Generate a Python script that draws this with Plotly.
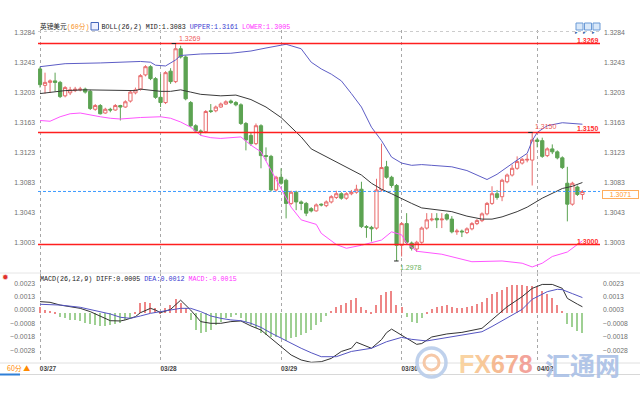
import plotly.graph_objects as go

# ---------------- data ----------------
dates = ["03/27", "03/28", "03/29", "03/30", "04/02"]
date_idx = [0, 24, 48, 72, 99]

opens = [1.3235, 1.3213, 1.3217, 1.3219, 1.3217, 1.3199, 1.3203, 1.3206, 1.3207, 1.3208,
         1.3205, 1.3181, 1.3186, 1.3176, 1.3181, 1.3180, 1.3186, 1.3184, 1.3192, 1.3203,
         1.3208, 1.3227, 1.3238, 1.3222, 1.3197, 1.3190, 1.3232, 1.3218, 1.3262, 1.3251,
         1.3190, 1.3159, 1.3152, 1.3151, 1.3179, 1.3179, 1.3184, 1.3188, 1.3192, 1.3190,
         1.3187, 1.3162, 1.3146, 1.3135, 1.3159, 1.3119, 1.3118, 1.3073, 1.3090, 1.3086,
         1.3055, 1.3070, 1.3057, 1.3055, 1.3048, 1.3045, 1.3054, 1.3052, 1.3057, 1.3063,
         1.3068, 1.3062, 1.3068, 1.3070, 1.3074, 1.3024, 1.3023, 1.3022, 1.3073, 1.3104,
         1.3090, 1.3079, 1.2999, 1.3028, 1.3002, 1.2994, 1.3003, 1.3022, 1.3033, 1.3035,
         1.3033, 1.3040, 1.3034, 1.3017, 1.3018, 1.3016, 1.3021, 1.3028, 1.3032, 1.3041,
         1.3055, 1.3068, 1.3064, 1.3084, 1.3093, 1.3102, 1.3109, 1.3113, 1.3113, 1.3140,
         1.3139, 1.3119, 1.3128, 1.3124, 1.3116, 1.3082, 1.3054, 1.3077, 1.3067]
highs = [1.3238, 1.3230, 1.3221, 1.3230, 1.3219, 1.3212, 1.3211, 1.3211, 1.3211, 1.3210,
         1.3207, 1.3188, 1.3188, 1.3183, 1.3183, 1.3188, 1.3187, 1.3193, 1.3206, 1.3210,
         1.3228, 1.3240, 1.3240, 1.3224, 1.3228, 1.3232, 1.3236, 1.3269, 1.3266, 1.3253,
         1.3192, 1.3161, 1.3154, 1.3180, 1.3188, 1.3186, 1.3190, 1.3193, 1.3194, 1.3192,
         1.3189, 1.3164, 1.3150, 1.3162, 1.3161, 1.3130, 1.3120, 1.3092, 1.3102, 1.3088,
         1.3072, 1.3072, 1.3059, 1.3057, 1.3050, 1.3055, 1.3055, 1.3059, 1.3066, 1.3072,
         1.3070, 1.3070, 1.3073, 1.3080, 1.3084, 1.3026, 1.3025, 1.3088, 1.3135, 1.3112,
         1.3092, 1.3081, 1.3030, 1.3042, 1.3004, 1.3005, 1.3024, 1.3042, 1.3042, 1.3042,
         1.3042, 1.3042, 1.3038, 1.3021, 1.3020, 1.3023, 1.3030, 1.3034, 1.3043, 1.3057,
         1.3078, 1.3073, 1.3088, 1.3095, 1.3107, 1.3118, 1.3116, 1.3121, 1.3150, 1.3143,
         1.3143, 1.3130, 1.3134, 1.3126, 1.3118, 1.3104, 1.3084, 1.3079, 1.3073]
lows = [1.3210, 1.3202, 1.3203, 1.3205, 1.3196, 1.3197, 1.3200, 1.3204, 1.3205, 1.3202,
        1.3180, 1.3179, 1.3174, 1.3175, 1.3177, 1.3179, 1.3166, 1.3183, 1.3190, 1.3201,
        1.3206, 1.3225, 1.3220, 1.3195, 1.3184, 1.3188, 1.3215, 1.3216, 1.3249, 1.3193,
        1.3157, 1.3150, 1.3146, 1.3149, 1.3176, 1.3177, 1.3183, 1.3187, 1.3188, 1.3185,
        1.3160, 1.3126, 1.3132, 1.3133, 1.3102, 1.3112, 1.3071, 1.3071, 1.3080, 1.3035,
        1.3053, 1.3046, 1.3046, 1.3038, 1.3043, 1.3044, 1.3051, 1.3050, 1.3055, 1.3061,
        1.3060, 1.3060, 1.3066, 1.3068, 1.3022, 1.3009, 1.3004, 1.3020, 1.3071, 1.3088,
        1.3076, 1.2978, 1.2984, 1.3001, 1.2992, 1.2990, 1.3001, 1.3020, 1.3031, 1.3022,
        1.3022, 1.3032, 1.3015, 1.3013, 1.3010, 1.3014, 1.3019, 1.3026, 1.3030, 1.3039,
        1.3053, 1.3060, 1.3058, 1.3082, 1.3091, 1.3100, 1.3107, 1.3110, 1.3079, 1.3130,
        1.3116, 1.3117, 1.3121, 1.3114, 1.3101, 1.3031, 1.3052, 1.3065, 1.3060]
closes = [1.3214, 1.3217, 1.3219, 1.3217, 1.3198, 1.3210, 1.3207, 1.3208, 1.3208, 1.3204,
          1.3182, 1.3186, 1.3175, 1.3181, 1.3180, 1.3186, 1.3184, 1.3191, 1.3204, 1.3207,
          1.3226, 1.3238, 1.3222, 1.3197, 1.3190, 1.3230, 1.3218, 1.3262, 1.3251, 1.3195,
          1.3159, 1.3152, 1.3151, 1.3178, 1.3178, 1.3184, 1.3188, 1.3191, 1.3190, 1.3187,
          1.3162, 1.3140, 1.3135, 1.3159, 1.3119, 1.3118, 1.3073, 1.3090, 1.3082, 1.3055,
          1.3070, 1.3057, 1.3055, 1.3042, 1.3045, 1.3053, 1.3053, 1.3057, 1.3064, 1.3068,
          1.3062, 1.3068, 1.3070, 1.3074, 1.3024, 1.3023, 1.3021, 1.3073, 1.3103, 1.3090,
          1.3079, 1.2999, 1.3028, 1.3003, 1.2995, 1.3003, 1.3022, 1.3033, 1.3034, 1.3033,
          1.3034, 1.3034, 1.3017, 1.3018, 1.3017, 1.3021, 1.3028, 1.3032, 1.3041, 1.3055,
          1.3068, 1.3063, 1.3086, 1.3093, 1.3102, 1.3111, 1.3114, 1.3114, 1.3140, 1.3138,
          1.3118, 1.3128, 1.3124, 1.3116, 1.3103, 1.3054, 1.3082, 1.3067, 1.3071]

upper_idx = [0, 5, 12, 20, 22, 23, 25, 27, 28, 32, 38, 42, 45, 48, 49, 50, 52, 54, 56, 58,
             60, 62, 64, 66, 68, 70, 72, 74, 76, 78, 82, 85, 87, 89, 91, 93, 95, 97, 98, 99,
             101, 104, 106, 108]
upper_val = [1.3238, 1.3242, 1.3243, 1.3245, 1.3244, 1.3240, 1.3239, 1.3247, 1.3253, 1.3255,
             1.3256, 1.3259, 1.3263, 1.3266, 1.3268, 1.3266, 1.3262, 1.3244, 1.3235, 1.3228,
             1.3219, 1.3202, 1.3184, 1.3157, 1.3139, 1.3117, 1.3109, 1.3106, 1.3107, 1.3106,
             1.3104, 1.3099, 1.3093, 1.3087, 1.3094, 1.3104, 1.3113, 1.3122, 1.3139, 1.3150,
             1.3159, 1.3163, 1.3162, 1.3161]

mid_idx = [0, 2, 5, 9, 12, 15, 19, 20, 22, 24, 26, 28, 30, 32, 36, 39, 42, 45, 48, 50,
           52, 54, 56, 58, 61, 64, 66, 68, 70, 72, 74, 76, 78, 82, 85, 88, 90, 92, 95, 97,
           100, 102, 104, 106, 108]
mid_val = [1.3202, 1.3204, 1.3206, 1.3207, 1.3207, 1.3206, 1.3206, 1.3208, 1.3206, 1.3205,
           1.3205, 1.3207, 1.3204, 1.3201, 1.3199, 1.3200, 1.3194, 1.3184, 1.3170, 1.3157,
           1.3144, 1.3128, 1.3121, 1.3114, 1.3103, 1.3093, 1.3082, 1.3074, 1.3068, 1.3061,
           1.3055, 1.3049, 1.3047, 1.3044, 1.3038, 1.3034, 1.3034, 1.3037, 1.3044, 1.3050,
           1.3062, 1.3068, 1.3075, 1.3078, 1.3083]

lower_idx = [0, 2, 4, 6, 8, 10, 12, 14, 16, 20, 24, 26, 28, 30, 32, 34, 36, 40, 42, 44,
             46, 48, 50, 52, 55, 56, 59, 61, 64, 68, 70, 72, 73, 75, 80, 86, 92, 96, 98, 100,
             102, 105, 106, 108]
lower_val = [1.3166, 1.3165, 1.3171, 1.3175, 1.3176, 1.3174, 1.3171, 1.3169, 1.3168, 1.3170,
             1.3171, 1.3169, 1.3164, 1.3157, 1.3146, 1.3143, 1.3142, 1.3144, 1.3133, 1.3124,
             1.3099, 1.3073, 1.3050, 1.3033, 1.3027, 1.3015, 1.3000, 1.2995, 1.2999, 1.3006,
             1.3017, 1.3013, 1.3002, 1.2991, 1.2987, 1.2977, 1.2978, 1.2975, 1.2970, 1.2975,
             1.2984, 1.2990, 1.2995, 1.3005]

diff_idx = [0, 2, 4, 6, 8, 10, 12, 14, 16, 17, 19, 20, 22, 23, 24, 26, 28, 29, 30, 32,
            34, 36, 38, 40, 42, 44, 46, 48, 50, 52, 54, 56, 58, 60, 62, 63, 65, 66, 68, 69,
            70, 72, 73, 75, 76, 78, 81, 84, 88, 90, 93, 96, 98, 100, 102, 104, 105, 107, 108]
diff_val = [0.00089, 0.00084, 0.00063, 0.00051, 0.00038, 0.00013, -0.00020, -0.00056, -0.00058, -0.00050,
            -0.00025, 0.00005, 0.00038, 0.00025, 0.00005, 0.00030, 0.00100, 0.00064, 0.00025, -0.00063,
            -0.00076, -0.00076, -0.00063, -0.00058, -0.00096, -0.00127, -0.00190, -0.00254, -0.00317, -0.00355,
            -0.00373, -0.00368, -0.00343, -0.00290, -0.00266, -0.00220, -0.00250, -0.00266, -0.00200, -0.00147,
            -0.00120, -0.00165, -0.00190, -0.00236, -0.00230, -0.00180, -0.00157, -0.00145, -0.00114, -0.00050,
            0.00050, 0.00127, 0.00190, 0.00220, 0.00220, 0.00190, 0.00114, 0.00070, 0.00050]

dea_idx = [0, 4, 8, 12, 14, 16, 18, 20, 22, 24, 26, 28, 30, 32, 34, 36, 38, 40, 42, 44,
           46, 48, 50, 52, 54, 56, 59, 62, 66, 69, 72, 74, 77, 80, 84, 88, 90, 93, 96, 98,
           101, 103, 104, 106, 108]
dea_val = [0.00069, 0.00063, 0.00046, 0.00013, -0.00005, -0.00030, -0.00038, -0.00020, 0.00000, 0.00013,
           0.00025, 0.00038, 0.00038, 0.00013, -0.00020, -0.00038, -0.00050, -0.00056, -0.00076, -0.00107,
           -0.00150, -0.00190, -0.00230, -0.00266, -0.00300, -0.00330, -0.00330, -0.00290, -0.00266, -0.00216,
           -0.00183, -0.00198, -0.00210, -0.00190, -0.00165, -0.00140, -0.00100, -0.00038, 0.00030, 0.00107,
           0.00165, 0.00183, 0.00180, 0.00150, 0.00120]

macd_hist = [0.00046, 0.00025, 0.00018, 0.00008, -0.00025, -0.00038, -0.00051, -0.00051, -0.00056, -0.00071,
             -0.00081, -0.00089, -0.00097, -0.00097, -0.00089, -0.00081, -0.00071, -0.00051, -0.00038, 0.00013,
             0.00076, 0.00089, 0.00076, 0.00038, 0.00013, 0.00038, 0.00064, 0.00107, 0.00076, 0.00038,
             -0.00051, -0.00127, -0.00152, -0.00140, -0.00127, -0.00089, -0.00064, -0.00038, -0.00025, -0.00013,
             -0.00038, -0.00064, -0.00089, -0.00114, -0.00147, -0.00165, -0.00183, -0.00183, -0.00190, -0.00208,
             -0.00190, -0.00178, -0.00165, -0.00152, -0.00127, -0.00089, -0.00064, -0.00020, 0.00018, 0.00051,
             0.00064, 0.00081, 0.00102, 0.00114, 0.00051, 0.00025, 0.00008, 0.00064, 0.00140, 0.00165,
             0.00170, 0.00064, 0.00051, -0.00025, -0.00064, -0.00071, -0.00038, 0.00013, 0.00030, 0.00046,
             0.00058, 0.00064, 0.00051, 0.00038, 0.00038, 0.00046, 0.00056, 0.00071, 0.00089, 0.00114,
             0.00147, 0.00165, 0.00178, 0.00198, 0.00216, 0.00216, 0.00216, 0.00208, 0.00208, 0.00198,
             0.00173, 0.00147, 0.00114, 0.00064, 0.00020, -0.00081, -0.00107, -0.00132, -0.00152]

levels = [1.3269, 1.3150, 1.3000]
price_ticks = [1.3284, 1.3243, 1.3203, 1.3163, 1.3123, 1.3083, 1.3043, 1.3003]
macd_ticks = [0.0023, 0.0013, 0.0003, -0.0008, -0.0018, -0.0028]

# ---------------- styling ----------------
W, H = 640, 400
ML, MR = 38, 40
PW = W - ML - MR


def px_x(px):
    return (px - ML) / PW


def px_y(py):
    return (H - py) / H


INC = "#e8696a"
DEC = "#5ca352"
GRAY = "#707070"
TICKFONT = dict(family="Liberation Sans, Arial, sans-serif", size=6.8, color=GRAY)
MONO = "Liberation Mono, Noto Sans CJK SC, monospace"

n = len(closes)
idx = list(range(n))

fig = go.Figure()

fig.add_trace(go.Candlestick(
    x=idx, open=opens, high=highs, low=lows, close=closes,
    increasing=dict(line=dict(color=INC, width=1), fillcolor="white"),
    decreasing=dict(line=dict(color=DEC, width=1), fillcolor=DEC),
    xaxis="x", yaxis="y", showlegend=False, hoverinfo="skip"))

for xs, ys, col in [(upper_idx, upper_val, "#5d5dc6"),
                    (mid_idx, mid_val, "#3a3a3a"),
                    (lower_idx, lower_val, "#ff55ff")]:
    fig.add_trace(go.Scatter(x=xs, y=ys, mode="lines", line=dict(color=col, width=1),
                             xaxis="x", yaxis="y", showlegend=False, hoverinfo="skip"))

# right-side price axis helper
fig.add_trace(go.Scatter(x=[0], y=[closes[0]], mode="markers", marker=dict(opacity=0),
                         xaxis="x", yaxis="y3", showlegend=False, hoverinfo="skip"))

# MACD panel
fig.add_trace(go.Bar(x=idx, y=macd_hist, width=0.24,
                     marker=dict(color=["#ee8686" if v >= 0 else "#9fd093" for v in macd_hist],
                                 line=dict(width=0)),
                     xaxis="x2", yaxis="y2", showlegend=False, hoverinfo="skip"))
fig.add_trace(go.Scatter(x=diff_idx, y=diff_val, mode="lines", line=dict(color="#333333", width=1),
                         xaxis="x2", yaxis="y2", showlegend=False, hoverinfo="skip"))
fig.add_trace(go.Scatter(x=dea_idx, y=dea_val, mode="lines", line=dict(color="#5555c2", width=1),
                         xaxis="x2", yaxis="y2", showlegend=False, hoverinfo="skip"))
fig.add_trace(go.Scatter(x=[0], y=[0], mode="markers", marker=dict(opacity=0),
                         xaxis="x2", yaxis="y4", showlegend=False, hoverinfo="skip"))

PRICE_RANGE = [1.29619, 1.32871]
MACD_RANGE = [-0.00378, 0.00307]
XR = [-0.4, 111.5]
main_dom = [px_y(273), px_y(30)]
macd_dom = [px_y(363), px_y(273)]

shapes = []
annotations = []

# level lines + right labels
for v in levels:
    shapes.append(dict(type="line", xref="x domain", x0=0, x1=1, yref="y", y0=v, y1=v,
                       line=dict(color="#ff1f1f", width=1.5), layer="above"))
    annotations.append(dict(xref="paper", x=1, xanchor="right", yref="y", y=v, yanchor="bottom",
                            text=f"<b>{v:.4f}</b>", showarrow=False,
                            font=dict(family="Liberation Sans, Arial", size=7, color="#ff3030"),
                            borderpad=0, yshift=-1))

# current price line and box
last = closes[-1]
shapes.append(dict(type="line", xref="x domain", x0=0, x1=1, yref="y", y0=last, y1=last,
                   line=dict(color="#3d9bff", width=1, dash="3px,2px")))
annotations.append(dict(xref="paper", x=px_x(620.5), xanchor="center", yref="y", y=last,
                        yanchor="top", text=f"{last:.4f}", showarrow=False,
                        font=dict(family="Liberation Sans, Arial", size=7, color="#ff9a2e"),
                        bordercolor="#ffad5c", borderwidth=1, borderpad=0, bgcolor="white",
                        width=35, height=7, yshift=1))

# high / low markers
hi_marks = [27, 98]
lo_marks = [71]
for i in hi_marks:
    shapes.append(dict(type="line", xref="x", x0=i - 0.8, x1=i + 0.1, yref="y",
                       y0=highs[i], y1=highs[i], line=dict(color="#222", width=1)))
    annotations.append(dict(xref="x", x=i, xanchor="left", yref="y", y=highs[i], yanchor="bottom",
                            text=f"{highs[i]:.4f}", showarrow=False, xshift=1, yshift=0,
                            font=dict(family="Liberation Sans, Arial", size=7, color="#ee5a5a")))
for i in lo_marks:
    shapes.append(dict(type="line", xref="x", x0=i - 0.5, x1=i + 0.4, yref="y",
                       y0=lows[i], y1=lows[i], line=dict(color="#222", width=1)))
    annotations.append(dict(xref="x", x=i, xanchor="left", yref="y", y=lows[i], yanchor="top",
                            text=f"{lows[i]:.4f}", showarrow=False, xshift=1, yshift=-1,
                            font=dict(family="Liberation Sans, Arial", size=7, color="#6ab25a")))

# separators
for py, col in [(273, "#e6e6e6"), (363, "#e0e0e0"), (374.5, "#d8d8d8")]:
    shapes.append(dict(type="line", xref="paper", x0=px_x(0), x1=px_x(640), yref="paper",
                       y0=px_y(py), y1=px_y(py), line=dict(color=col, width=1)))
shapes.append(dict(type="line", xref="paper", x0=px_x(0), x1=px_x(20), yref="paper",
                   y0=px_y(374.5), y1=px_y(374.5), line=dict(color="#2f7fd6", width=2)))
shapes.append(dict(type="line", xref="paper", x0=0, x1=1, yref="paper",
                   y0=px_y(31.5), y1=px_y(31.5), line=dict(color="#cccccc", width=1, dash="dot")))

# title icon and top-right buttons
shapes.append(dict(type="rect", xref="paper", x0=px_x(91), x1=px_x(98.5), yref="paper",
                   y0=px_y(30), y1=px_y(22.5), line=dict(color="#4466bb", width=1), fillcolor="#eef1ff"))
for x0 in [576, 584.5, 593]:
    shapes.append(dict(type="rect", xref="paper", x0=px_x(x0), x1=px_x(x0 + 7), yref="paper",
                       y0=px_y(30), y1=px_y(23), line=dict(color="#6b9ad6", width=1), fillcolor="#d9e8f9"))
    annotations.append(dict(xref="paper", x=px_x(x0 + 3.5), yref="paper", y=px_y(26.5),
                            text="▸", showarrow=False, font=dict(size=5, color="#2d5fa8")))

# titles
upper_last, mid_last, lower_last = upper_val[-1], mid_val[-1], lower_val[-1]
title = (f'英镑美元<span style="color:#f7931e">(60分)</span>   '
         f'BOLL(26,2) MID:{mid_last:.4f} '
         f'<span style="color:#3a3ad0">UPPER:{upper_last:.4f}</span> '
         f'<span style="color:#ff33ff">LOWER:{lower_last:.4f}</span>')
annotations.append(dict(xref="paper", x=0, xanchor="left", yref="paper", y=px_y(26.5),
                        yanchor="middle", text=title, showarrow=False,
                        font=dict(family=MONO, size=6.7, color="#222")))
macd_title = (f'MACD(26,12,9) DIFF:{diff_val[-1]:.4f} '
              f'<span style="color:#3a3ad0">DEA:{dea_val[-1]:.4f}</span> '
              f'<span style="color:#ff33ff">MACD:{macd_hist[-1]:.4f}</span>')
annotations.append(dict(xref="paper", x=0, xanchor="left", yref="paper", y=px_y(278.5),
                        yanchor="middle", text=macd_title, showarrow=False,
                        font=dict(family=MONO, size=6.7, color="#222")))
annotations.append(dict(xref="paper", x=px_x(0), xanchor="left", yref="paper", y=px_y(277),
                        yanchor="middle", text="✹", showarrow=False,
                        font=dict(family="DejaVu Sans", size=8, color="#e0302a")))
annotations.append(dict(xref="paper", x=px_x(5), xanchor="left", yref="paper", y=px_y(367.5),
                        yanchor="middle", text="60分 ▲", showarrow=False,
                        font=dict(family="Noto Sans CJK SC, Liberation Sans", size=7, color="#ff8a00")))

# watermark
shapes.append(dict(type="circle", xref="paper", x0=px_x(417), x1=px_x(446), yref="paper",
                   y0=px_y(377), y1=px_y(348), line=dict(color="#b9cdea", width=3.5), opacity=0.9))
shapes.append(dict(type="circle", xref="paper", x0=px_x(424), x1=px_x(439), yref="paper",
                   y0=px_y(370), y1=px_y(355), line=dict(color="#f6c39e", width=3), opacity=0.9))
wm = ('<span style="color:#f9cf98">F</span><span style="color:#f8c38f">X</span>'
      '<span style="color:#f6b488">6</span><span style="color:#f4a688">7</span>'
      '<span style="color:#f29a90">8</span>')
annotations.append(dict(xref="paper", x=px_x(496), xanchor="center", yref="paper", y=px_y(364),
                        yanchor="middle", text=f"<b>{wm}</b>", showarrow=False, opacity=0.9,
                        font=dict(family="Liberation Sans, Arial, sans-serif", size=25)))
annotations.append(dict(xref="paper", x=px_x(582), xanchor="center", yref="paper", y=px_y(364),
                        yanchor="middle", text="<b>汇通网</b>", showarrow=False, opacity=0.9,
                        font=dict(family="Noto Sans CJK SC", size=25, color="#aac0e6")))

fig.update_layout(
    width=W, height=H,
    margin=dict(l=ML, r=MR, t=0, b=0, autoexpand=False),
    paper_bgcolor="white", plot_bgcolor="white",
    showlegend=False, boxgap=0.35, boxgroupgap=0, bargap=0,
    xaxis=dict(domain=[0, 1], anchor="y", range=XR, tickvals=date_idx, showticklabels=False,
               showgrid=True, gridcolor="#a8a8a8", griddash="dot", gridwidth=1,
               zeroline=False, showline=False, ticks="", rangeslider=dict(visible=False)),
    xaxis2=dict(domain=[0, 1], anchor="y2", matches="x", range=XR, tickvals=date_idx,
                ticktext=[f"<b>{d}</b>" for d in dates], showticklabels=True,
                tickfont=dict(family="Liberation Sans, Arial", size=6.5, color="#444"),
                ticklabelshift=8, ticklabelstandoff=0,
                showgrid=True, gridcolor="#a8a8a8", griddash="dot", gridwidth=1,
                zeroline=False, showline=False, ticks=""),
    yaxis=dict(domain=main_dom, anchor="x", range=PRICE_RANGE, tickvals=price_ticks,
               tickformat=".4f", tickfont=TICKFONT, showgrid=False, zeroline=False, ticks="",
               ticklabelstandoff=2),
    yaxis3=dict(overlaying="y", side="right", anchor="x", range=PRICE_RANGE, tickvals=price_ticks,
                tickformat=".4f", tickfont=TICKFONT, showgrid=False, zeroline=False, ticks="",
                ticklabelstandoff=3),
    yaxis2=dict(domain=macd_dom, anchor="x2", range=MACD_RANGE, tickvals=macd_ticks,
                tickformat=".4f", tickfont=TICKFONT, showgrid=False, zeroline=False, ticks="",
                ticklabelstandoff=2),
    yaxis4=dict(overlaying="y2", side="right", anchor="x2", range=MACD_RANGE, tickvals=macd_ticks,
                tickformat=".4f", tickfont=TICKFONT, showgrid=False, zeroline=False, ticks="",
                ticklabelstandoff=2),
    shapes=shapes, annotations=annotations,
)

fig.write_html("out.html", config={"displayModeBar": False},
               post_script="document.body.style.margin='0px';document.body.style.overflow='hidden';")
